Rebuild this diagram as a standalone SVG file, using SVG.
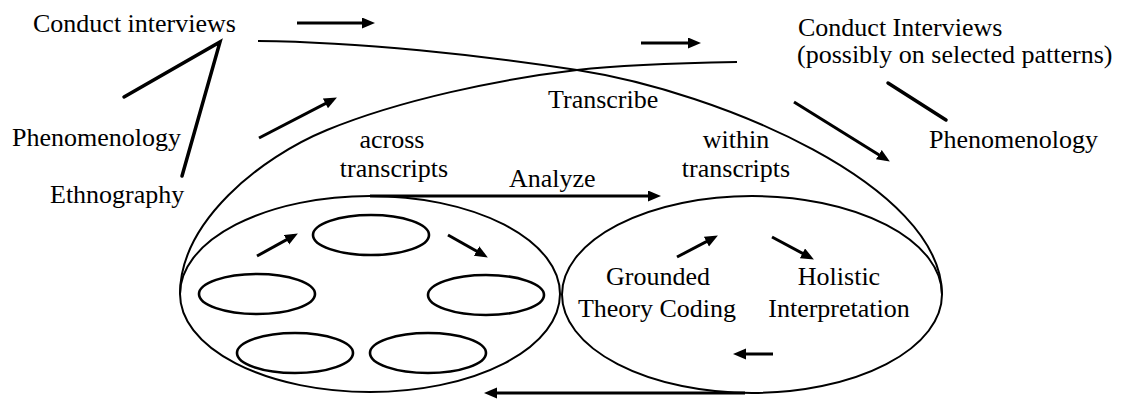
<svg xmlns="http://www.w3.org/2000/svg" width="1123" height="402" viewBox="0 0 1123 402">
  <style>
    .lbl { font-family: "Liberation Serif", "Times New Roman", serif; font-size: 26px; fill: #000; }
    .mid { text-anchor: middle; }
    .outline { fill: none; stroke: #000; stroke-width: 2; }
    .sub { fill: none; stroke: #000; stroke-width: 2.6; }
    .arrow { fill: none; stroke: #000; stroke-width: 3; marker-end: url(#head); }
    .bar { fill: none; stroke: #000; stroke-width: 3.5; stroke-linecap: round; stroke-linejoin: miter; }
  </style>
  <defs>
    <marker id="head" markerUnits="userSpaceOnUse" markerWidth="15" markerHeight="12" refX="8" refY="5.5" orient="auto">
      <path d="M0,0 L13,5.5 L0,11 Z" fill="#000"/>
    </marker>
  </defs>

  <rect width="1123" height="402" fill="#fff"/>

  <!-- looping outline: transcription cycle -->
  <g id="transcribe-loop">
    <path class="outline" d="M258,41 C360,42 480,55 577,70 C720,92 941,185 942,294"/>
    <path class="outline" d="M737,62 C680,63 620,65 577,70 C500,79 400,100 327,130 C260,157.5 180,222 180,294"/>
    <text class="lbl" x="548" y="108">Transcribe</text>
  </g>

  <!-- analysis across transcripts -->
  <g id="across-transcripts">
    <ellipse class="outline" cx="370" cy="294" rx="190" ry="98"/>
    <ellipse class="sub" cx="371" cy="235" rx="58" ry="20"/>
    <ellipse class="sub" cx="257" cy="294" rx="58" ry="20"/>
    <ellipse class="sub" cx="486" cy="295" rx="58" ry="20"/>
    <ellipse class="sub" cx="295" cy="353" rx="58" ry="20"/>
    <ellipse class="sub" cx="428" cy="353" rx="58" ry="20"/>
    <text class="lbl mid" x="392" y="148">across</text>
    <text class="lbl mid" x="394" y="177">transcripts</text>
  </g>

  <!-- analysis within transcripts -->
  <g id="within-transcripts">
    <ellipse class="outline" cx="752" cy="294.5" rx="190" ry="98.5"/>
    <text class="lbl mid" x="736" y="148">within</text>
    <text class="lbl mid" x="736" y="177">transcripts</text>
    <text class="lbl mid" x="658" y="285">Grounded</text>
    <text class="lbl mid" x="657" y="317">Theory Coding</text>
    <text class="lbl mid" x="839" y="285">Holistic</text>
    <text class="lbl mid" x="839" y="317">Interpretation</text>
  </g>

  <g id="conduct-interviews">
    <text class="lbl" x="33" y="32">Conduct interviews</text>
  </g>
  <g id="phenomenology-left">
    <text class="lbl" x="12" y="146">Phenomenology</text>
  </g>
  <g id="ethnography">
    <text class="lbl" x="50" y="203">Ethnography</text>
  </g>
  <g id="conduct-interviews-selected">
    <text class="lbl" x="798" y="36">Conduct Interviews</text>
    <text class="lbl" x="797" y="63">(possibly on selected patterns)</text>
  </g>
  <g id="phenomenology-right">
    <text class="lbl" x="929" y="148">Phenomenology</text>
  </g>
  <g id="analyze-label">
    <text class="lbl" x="509" y="187">Analyze</text>
  </g>

  <g id="connectors">
    <!-- method links -->
    <polyline class="bar" points="124,97 220,42 182,176"/>
    <line class="bar" x1="888" y1="83" x2="946" y2="120"/>

    <!-- flow arrows -->
    <line class="arrow" x1="297" y1="23" x2="370" y2="23"/>
    <line class="arrow" x1="641" y1="43" x2="696" y2="43"/>
    <line class="arrow" x1="259" y1="138" x2="332.5" y2="99.8"/>
    <line class="arrow" x1="794" y1="102" x2="885.6" y2="158.9"/>
    <line class="arrow" x1="370" y1="196" x2="656" y2="196"/>
    <line class="arrow" x1="745" y1="393" x2="489" y2="393"/>

    <!-- cycle arrows, across -->
    <line class="arrow" x1="257" y1="256" x2="293.5" y2="235.9"/>
    <line class="arrow" x1="448" y1="235" x2="483.5" y2="255"/>

    <!-- cycle arrows, within -->
    <line class="arrow" x1="677" y1="257" x2="713.5" y2="237.9"/>
    <line class="arrow" x1="772" y1="237" x2="809.5" y2="257.1"/>
    <line class="arrow" x1="773" y1="354" x2="738" y2="354"/>
  </g>
</svg>
